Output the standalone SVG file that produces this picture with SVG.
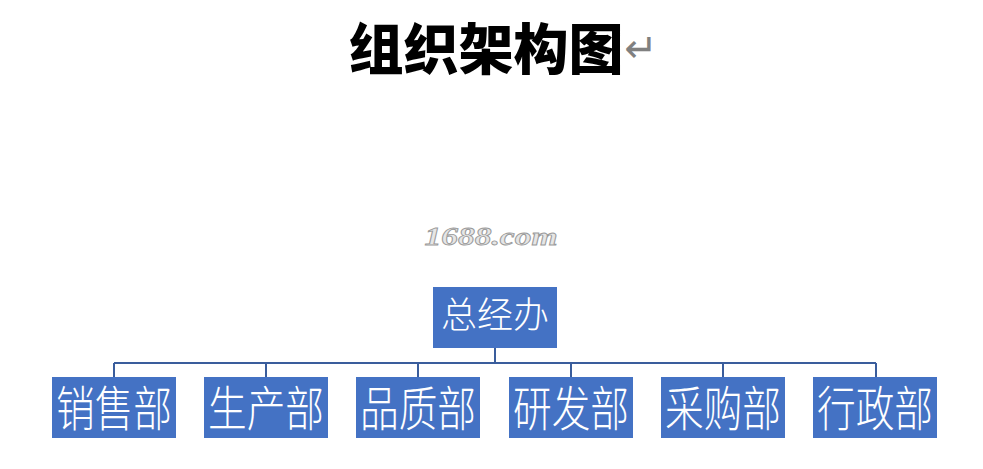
<svg xmlns="http://www.w3.org/2000/svg" width="983" height="469" viewBox="0 0 983 469">
<style>
.box{fill:#4472C4;}
.lbl{fill:#ffffff;font-family:"Noto Sans CJK SC","Noto Sans CJK JP",sans-serif;font-weight:300;font-size:48px;text-anchor:middle;}
.top{font-size:36px;}
.conn{stroke:#3A5D9C;stroke-width:2;fill:none;}
</style>
<rect width="983" height="469" fill="#ffffff"/>
<text x="486" y="69" font-family="Noto Sans CJK SC, sans-serif" font-weight="900" font-size="55" text-anchor="middle" fill="#000000">组织架构图</text>
<text x="641" y="62" font-family="DejaVu Sans, sans-serif" font-size="40" text-anchor="middle" fill="#808080">↵</text>
<text x="491" y="245" font-family="Liberation Serif, serif" font-style="italic" font-weight="bold" font-size="25" text-anchor="middle" textLength="133" lengthAdjust="spacingAndGlyphs" fill="#e6e6e6" stroke="#9a9a9a" stroke-width="0.8">1688.com</text>
<g id="connectors">
<path class="conn" d="M495 348V363M114 363H876M114 363V377M266 363V377M418 363V377M571 363V377M723 363V377M876 363V377"/>
</g>
<g id="n0"><rect class="box" x="433" y="287" width="124" height="61"/><text class="lbl top" x="495" y="328">总经办</text></g>
<g id="n1"><rect class="box" x="52" y="377" width="124" height="61"/><text class="lbl" x="114" y="426" textLength="116" lengthAdjust="spacingAndGlyphs">销售部</text></g>
<g id="n2"><rect class="box" x="204" y="377" width="124" height="61"/><text class="lbl" x="266" y="426" textLength="116" lengthAdjust="spacingAndGlyphs">生产部</text></g>
<g id="n3"><rect class="box" x="356" y="377" width="124" height="61"/><text class="lbl" x="418" y="426" textLength="116" lengthAdjust="spacingAndGlyphs">品质部</text></g>
<g id="n4"><rect class="box" x="509" y="377" width="124" height="61"/><text class="lbl" x="571" y="426" textLength="116" lengthAdjust="spacingAndGlyphs">研发部</text></g>
<g id="n5"><rect class="box" x="661" y="377" width="124" height="61"/><text class="lbl" x="723" y="426" textLength="116" lengthAdjust="spacingAndGlyphs">采购部</text></g>
<g id="n6"><rect class="box" x="813" y="377" width="124" height="61"/><text class="lbl" x="875" y="426" textLength="116" lengthAdjust="spacingAndGlyphs">行政部</text></g>
</svg>
